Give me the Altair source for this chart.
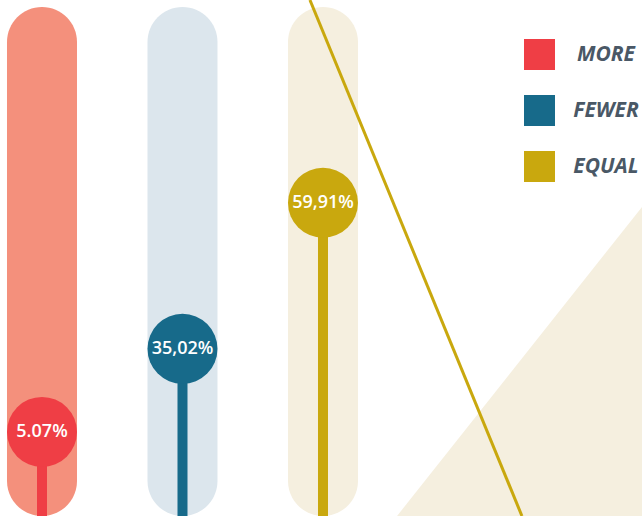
import altair as alt
import pandas as pd

# --- data ---------------------------------------------------------------
categories = ["MORE", "FEWER", "EQUAL"]
values = [5.07, 35.02, 59.91]
value_labels = ["5.07%", "35,02%", "59,91%"]
# drawn marker height of each column, in % of the column
marker_level = [16.3, 32.4, 60.7]
circle_colors = ["#EF3E45", "#176A8A", "#C9A80E"]
pill_colors = ["#F4907C", "#DCE6ED", "#F5EFDF"]
column_index = [0, 1, 2]
column_top = [98.64, 98.64, 98.64]

# decorative diagonal line and triangle (chart units)
deco_line_x = [1.907, 3.416]
deco_line_y = [100.0, 0.0]
deco_tri_x = [2.527, 4.2705]
deco_tri_y = [0.0, 59.9]

W, H = 642, 516

df = pd.DataFrame({
    "cat": categories,
    "value": values,
    "label": value_labels,
    "level": marker_level,
    "pill": pill_colors,
    "idx": column_index,
    "top": column_top,
})
df["zero"] = 0.0

line_df = pd.DataFrame({"x": deco_line_x, "y": deco_line_y})
tri_df = pd.DataFrame({"x": deco_tri_x, "y": deco_tri_y, "y0": [0.0, 0.0]})

xscale = alt.Scale(domain=[-0.2989, 4.2705], zero=False, nice=False, padding=0)
yscale = alt.Scale(domain=[0, 100], zero=False, nice=False, padding=0)
X = lambda f: alt.X(f, type="quantitative", scale=xscale, axis=None)
Y = lambda f: alt.Y(f, type="quantitative", scale=yscale, axis=None)

pills = alt.Chart(df).mark_bar(size=70, cornerRadius=35).encode(
    x=X("idx"), y=Y("zero"), y2="top",
    fill=alt.Fill("pill:N", scale=None),
)

tri = alt.Chart(tri_df).mark_area(color="#F5EFDF", opacity=1).encode(
    x=X("x"), y=Y("y"), y2="y0",
)

deco = alt.Chart(line_df).mark_line(color="#C9A80E", strokeWidth=3, clip=True).encode(
    x=X("x"), y=Y("y"),
)

color = alt.Color(
    "cat:N",
    scale=alt.Scale(domain=categories, range=circle_colors),
    legend=alt.Legend(
        title=None, orient="none", legendX=524, legendY=39, padding=0,
        symbolType="square", symbolSize=961, symbolStrokeWidth=0,
        rowPadding=25, labelOffset=51, labelAlign="center",
        labelFont="Open Sans", labelFontSize=21, labelFontStyle="italic",
        labelFontWeight="bold", labelColor="#4A5866",
    ),
)

stems = alt.Chart(df).mark_bar(size=10).encode(
    x=X("idx"), y=Y("zero"), y2="level", color=color,
)

circles = alt.Chart(df).mark_circle(size=4900, opacity=1).encode(
    x=X("idx"), y=Y("level"), color=color,
)

texts = alt.Chart(df).mark_text(
    color="white", font="Open Sans", fontSize=18, fontWeight=600,
    baseline="middle", align="center"
).encode(x=X("idx"), y=Y("level"), text="label:N")

chart = alt.layer(pills, tri, deco, stems, circles, texts).properties(
    width=W, height=H, autosize=alt.AutoSizeParams(type="none"), padding=0,
    background="white",
).configure_view(stroke=None)

chart.save("out.html", embed_options={"renderer": "svg", "actions": False})
